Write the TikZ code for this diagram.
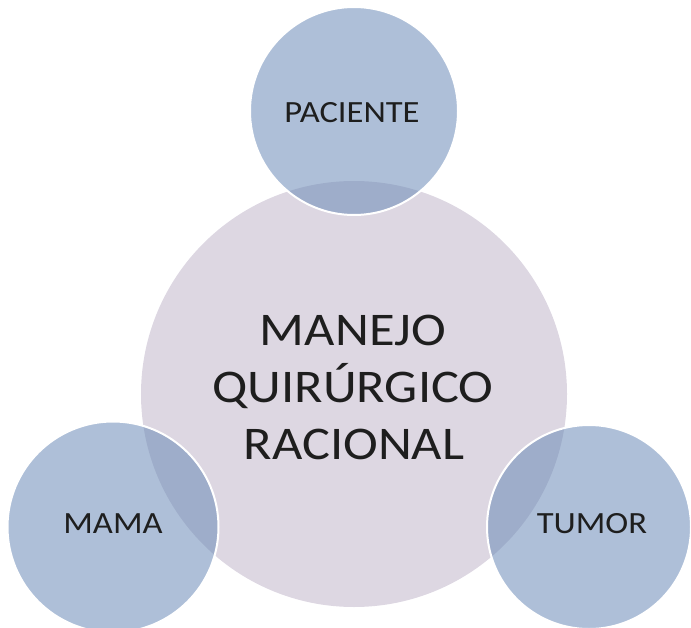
\documentclass[tikz,border=0pt]{standalone}
\usepackage{fontspec}
\setmainfont{Carlito}[FakeStretch=1.12]
\definecolor{outerblue}{RGB}{108,139,184}
\definecolor{lavender}{RGB}{221,215,226}
\definecolor{txt}{RGB}{30,30,30}
\begin{document}
\begin{tikzpicture}[x=1bp,y=-1bp,
  bigc/.style={circle,fill=lavender,inner sep=0pt,minimum size=#1},
  smallc/.style={circle,fill=outerblue,fill opacity=0.55,draw=white,line width=2bp,inner sep=0pt,minimum size=#1},
  bigtxt/.style={anchor=base,text=txt,font=\fontsize{47}{57}\selectfont},
  smalltxt/.style={anchor=base,text=txt,font=\fontsize{31}{37}\selectfont}]
\useasboundingbox (0,0) rectangle (691,628);
\node[bigc=426bp] (center) at (354,394) {};
\node[smallc=208bp] (top) at (354,111) {};
\node[smallc=211bp] (left) at (113,527) {};
\node[smallc=204bp] (right) at (589,527) {};
\node[bigtxt] (m1) at (353,345) {MANEJO};
\node[bigtxt] (m2) at (353,402) {QUIRÚRGICO};
\node[bigtxt] (m3) at (354,459) {RACIONAL};
\node[smalltxt] (tp) at (352,123) {PACIENTE};
\node[smalltxt] (tl) at (113,533) {MAMA};
\node[smalltxt] (tr) at (592,533) {TUMOR};
\end{tikzpicture}
\end{document}
